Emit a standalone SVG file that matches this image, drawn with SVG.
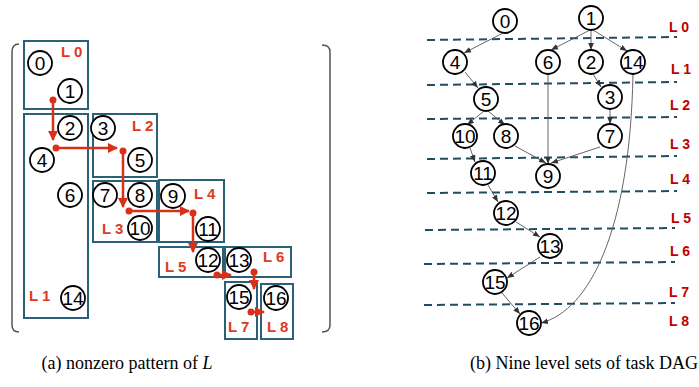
<svg xmlns="http://www.w3.org/2000/svg" width="699" height="387" viewBox="0 0 699 387">
<defs>
<style>
.box{fill:none;stroke:#2a6177;stroke-width:2}
.nd circle{fill:#fff;stroke:#000;stroke-width:1.8}
.nd text{font-family:"Liberation Sans",Arial,sans-serif;font-size:19px;text-anchor:middle;fill:#000}
.la{font-family:"Liberation Sans",Arial,sans-serif;font-size:15px;font-weight:bold;fill:#e03a1e}
.lb{font-family:"Liberation Sans",Arial,sans-serif;font-size:14px;font-weight:bold;fill:#c00000}
.red{stroke:#d9301a;stroke-width:2.5;fill:none}
.dot{fill:#d9301a}
.e{stroke:#555;stroke-width:0.9;fill:none;marker-end:url(#ah)}
.dash{stroke:#1f4e63;stroke-width:2;stroke-dasharray:8,5;fill:none}
.br{stroke:#555;stroke-width:1.5;fill:none}
.cap{font-family:"Liberation Serif","Times New Roman",serif;font-size:18px;fill:#000;text-anchor:middle}
</style>
<marker id="ah" viewBox="0 0 10 10" refX="10" refY="5" markerWidth="7" markerHeight="7" orient="auto" markerUnits="userSpaceOnUse">
<path d="M0,1 L10,5 L0,9 z" fill="#333"/>
</marker>
<marker id="rh" viewBox="0 0 10 10" refX="9" refY="5" markerWidth="4" markerHeight="4" orient="auto">
<path d="M0,0 L10,5 L0,10 z" fill="#d9301a"/>
</marker>
</defs>

<!-- brackets -->
<path class="br" d="M19,44 Q12,44 12,52 L12,325 Q12,332 19,332"/>
<path class="br" d="M322,45 Q330,45 330,52 L330,325 Q330,332 322,332"/>

<!-- level boxes (a) -->
<g id="box-L0"><rect class="box" x="24" y="41" width="64" height="68"/><text class="la" x="61" y="57">L 0</text></g>
<g id="box-L1"><rect class="box" x="24" y="114" width="64" height="204"/><text class="la" x="29" y="301">L 1</text></g>
<g id="box-L2"><rect class="box" x="93" y="114" width="64" height="63"/><text class="la" x="132" y="131">L 2</text></g>
<g id="box-L3"><rect class="box" x="93" y="181" width="64" height="61"/><text class="la" x="102" y="234">L 3</text></g>
<g id="box-L4"><rect class="box" x="159" y="180" width="65" height="62"/><text class="la" x="194" y="199">L 4</text></g>
<g id="box-L5"><rect class="box" x="159" y="247" width="64" height="30"/><text class="la" x="165" y="272">L 5</text></g>
<g id="box-L6"><rect class="box" x="225" y="247" width="66" height="30"/><text class="la" x="263" y="262">L 6</text></g>
<g id="box-L7"><rect class="box" x="225" y="282" width="32" height="57"/><text class="la" x="228" y="332">L 7</text></g>
<g id="box-L8"><rect class="box" x="261" y="284" width="32" height="55"/><text class="la" x="267" y="332">L 8</text></g>

<!-- nodes (a) -->
<g id="a-n0" class="nd"><circle cx="40" cy="63" r="12"/><text x="40" y="70">0</text></g>
<g id="a-n1" class="nd"><circle cx="70" cy="91" r="12"/><text x="70" y="98">1</text></g>
<g id="a-n2" class="nd"><circle cx="70" cy="128" r="12"/><text x="70" y="135">2</text></g>
<g id="a-n3" class="nd"><circle cx="103" cy="128" r="12"/><text x="103" y="135">3</text></g>
<g id="a-n4" class="nd"><circle cx="42" cy="160" r="12"/><text x="42" y="167">4</text></g>
<g id="a-n5" class="nd"><circle cx="140" cy="160" r="12"/><text x="140" y="167">5</text></g>
<g id="a-n6" class="nd"><circle cx="70" cy="195" r="12"/><text x="70" y="202">6</text></g>
<g id="a-n7" class="nd"><circle cx="105" cy="195" r="12"/><text x="105" y="202">7</text></g>
<g id="a-n8" class="nd"><circle cx="140" cy="195" r="12"/><text x="140" y="202">8</text></g>
<g id="a-n9" class="nd"><circle cx="173" cy="196" r="12"/><text x="173" y="203">9</text></g>
<g id="a-n10" class="nd"><circle cx="140" cy="228" r="12"/><text x="140" y="235">10</text></g>
<g id="a-n11" class="nd"><circle cx="208" cy="229" r="12"/><text x="208" y="236">11</text></g>
<g id="a-n12" class="nd"><circle cx="208" cy="260" r="12"/><text x="208" y="267">12</text></g>
<g id="a-n13" class="nd"><circle cx="239" cy="260" r="12"/><text x="239" y="267">13</text></g>
<g id="a-n14" class="nd"><circle cx="73" cy="298" r="12"/><text x="73" y="305">14</text></g>
<g id="a-n15" class="nd"><circle cx="239" cy="297" r="12"/><text x="239" y="304">15</text></g>
<g id="a-n16" class="nd"><circle cx="276" cy="298" r="12"/><text x="276" y="305">16</text></g>

<!-- red critical path (a) -->
<g id="critical-path">
<path class="red" d="M53,100 L53,140" marker-end="url(#rh)"/><circle class="dot" cx="53" cy="100" r="3.5"/>
<path class="red" d="M56,148 L117,148" marker-end="url(#rh)"/><circle class="dot" cx="56" cy="148" r="3.5"/>
<path class="red" d="M123,151 L123,207" marker-end="url(#rh)"/><circle class="dot" cx="123" cy="151" r="3.5"/>
<path class="red" d="M129,211 L189,211" marker-end="url(#rh)"/><circle class="dot" cx="129" cy="211" r="3.5"/>
<path class="red" d="M193,213 L193,252" marker-end="url(#rh)"/><circle class="dot" cx="193" cy="213" r="3.5"/>
<path class="red" d="M217,275 L231,275" marker-end="url(#rh)"/><circle class="dot" cx="217" cy="275" r="3.5"/>
<path class="red" d="M254,272 L254,289" marker-end="url(#rh)"/><circle class="dot" cx="254" cy="272" r="3.5"/>
<path class="red" d="M251,312 L264,312" marker-end="url(#rh)"/><circle class="dot" cx="251" cy="312" r="3.5"/>
</g>

<!-- level separators (b) -->
<g id="levels">
<path class="dash" d="M427,40 L677,37"/>
<path class="dash" d="M427,85 L677,82"/>
<path class="dash" d="M427,119 L677,117"/>
<path class="dash" d="M427,159 L677,156"/>
<path class="dash" d="M427,193 L677,191"/>
<path class="dash" d="M425,230 L675,228"/>
<path class="dash" d="M424,264 L675,262"/>
<path class="dash" d="M424,305 L675,303"/>
<text class="lb" x="669" y="32">L 0</text>
<text class="lb" x="671" y="74">L 1</text>
<text class="lb" x="670" y="110">L 2</text>
<text class="lb" x="670" y="149">L 3</text>
<text class="lb" x="670" y="184">L 4</text>
<text class="lb" x="671" y="223">L 5</text>
<text class="lb" x="670" y="256">L 6</text>
<text class="lb" x="669" y="297">L 7</text>
<text class="lb" x="669" y="326">L 8</text>
</g>

<!-- connectors (b) -->
<g id="connectors">
<path class="e" d="M503,33 L464,53"/>
<path class="e" d="M590,30 L551,50"/>
<path class="e" d="M591,30 L591,50"/>
<path class="e" d="M593,30 L627,51"/>
<path class="e" d="M465,72 L478,88"/>
<path class="e" d="M548,74 L548,164"/>
<path class="e" d="M593,74 L601,87"/>
<path class="e" d="M610,109 L610,124"/>
<path class="e" d="M484,111 L467,125"/>
<path class="e" d="M488,111 L505,125"/>
<path class="e" d="M470,148 L475,162"/>
<path class="e" d="M515,146 L546,163"/>
<path class="e" d="M600,147 L551,163"/>
<path class="e" d="M488,185 L498,202"/>
<path class="e" d="M516,222 L540,237"/>
<path class="e" d="M540,257 L507,278"/>
<path class="e" d="M502,293 L520,314"/>
<path class="e" d="M633,74 C630,230 590,310 541,323"/>
</g>

<!-- nodes (b) -->
<g id="b-n0" class="nd"><circle cx="505" cy="21" r="12"/><text x="505" y="28">0</text></g>
<g id="b-n1" class="nd"><circle cx="591" cy="18" r="12"/><text x="591" y="25">1</text></g>
<g id="b-n4" class="nd"><circle cx="455" cy="62" r="12"/><text x="455" y="69">4</text></g>
<g id="b-n6" class="nd"><circle cx="548" cy="62" r="12"/><text x="548" y="69">6</text></g>
<g id="b-n2" class="nd"><circle cx="591" cy="62" r="12"/><text x="591" y="69">2</text></g>
<g id="b-n14" class="nd"><circle cx="633" cy="62" r="12"/><text x="633" y="69">14</text></g>
<g id="b-n5" class="nd"><circle cx="486" cy="99" r="12"/><text x="486" y="106">5</text></g>
<g id="b-n3" class="nd"><circle cx="610" cy="97" r="12"/><text x="610" y="104">3</text></g>
<g id="b-n10" class="nd"><circle cx="465" cy="136" r="12"/><text x="465" y="143">10</text></g>
<g id="b-n8" class="nd"><circle cx="506" cy="136" r="12"/><text x="506" y="143">8</text></g>
<g id="b-n7" class="nd"><circle cx="610" cy="136" r="12"/><text x="610" y="143">7</text></g>
<g id="b-n11" class="nd"><circle cx="483" cy="173" r="12"/><text x="483" y="180">11</text></g>
<g id="b-n9" class="nd"><circle cx="548" cy="176" r="12"/><text x="548" y="183">9</text></g>
<g id="b-n12" class="nd"><circle cx="506" cy="213" r="12"/><text x="506" y="220">12</text></g>
<g id="b-n13" class="nd"><circle cx="550" cy="246" r="12"/><text x="550" y="253">13</text></g>
<g id="b-n15" class="nd"><circle cx="495" cy="282" r="12"/><text x="495" y="289">15</text></g>
<g id="b-n16" class="nd"><circle cx="529" cy="323" r="12"/><text x="529" y="330">16</text></g>

<!-- captions -->
<text class="cap" x="127" y="369">(a) nonzero pattern of <tspan font-style="italic">L</tspan></text>
<text class="cap" x="584" y="369">(b) Nine level sets of task DAG</text>
</svg>
